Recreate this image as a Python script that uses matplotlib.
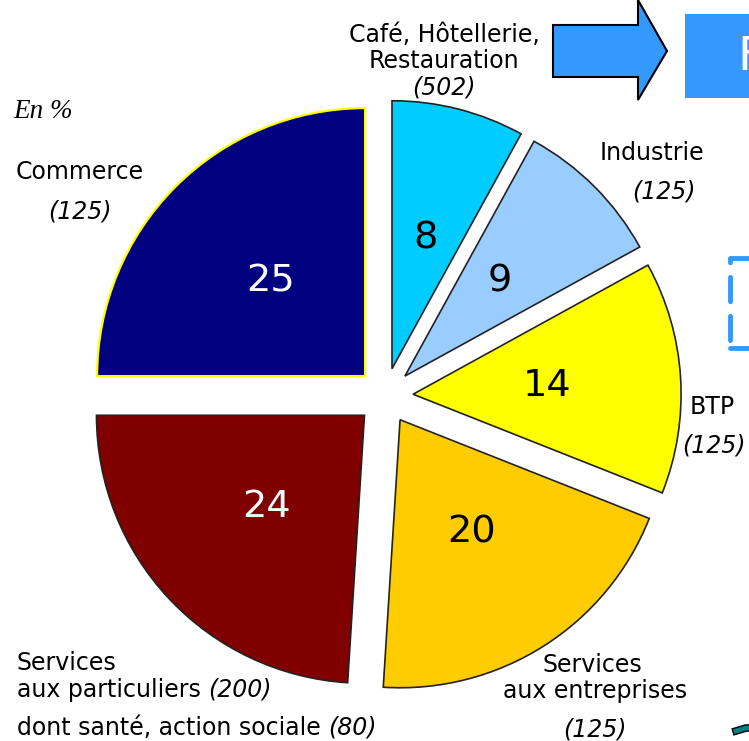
import matplotlib.pyplot as plt
from matplotlib.patches import Polygon, Rectangle

# parts en % par secteur (effectifs entre parenthèses)
secteurs = ["Café, Hôtellerie, Restauration", "Industrie", "BTP",
            "Services aux entreprises", "Services aux particuliers", "Commerce"]
parts = [8, 9, 14, 20, 24, 25]
effectifs = [502, 125, 125, 125, 200, 125]
effectif_sante = 80
couleurs = ["#00CCFF", "#99CCFF", "#FFFF00", "#FFCC00", "#800000", "#000080"]
bords = ["#222222", "#222222", "#222222", "#222222", "#222222", "#FFFF00"]
couleurs_texte = ["black", "black", "black", "black", "white", "white"]

W, H = 749, 741
fig = plt.figure(figsize=(W / 100, H / 100), dpi=100)

# camembert : rayon 268 px, centre en (385, 396) px
R, cx, cy = 268.0, 385.0, 396.0
ax = fig.add_axes([0, 0, 1, 1])
wedges, _, autotexts = ax.pie(
    parts, colors=couleurs, startangle=90, counterclock=False,
    explode=[0.105] * len(parts), autopct=lambda p: f"{p:.0f}",
    pctdistance=0.5, radius=1.0,
    wedgeprops=dict(linewidth=1.2),
    textprops=dict(fontsize=27.5, family="DejaVu Sans"))
for w, ec in zip(wedges, bords):
    w.set_edgecolor(ec)
wedges[-1].set_linewidth(1.6)
for t, c in zip(autotexts, couleurs_texte):
    t.set_color(c)
ax.set_xlim(-cx / R, (W - cx) / R)
ax.set_ylim(-(H - cy) / R, cy / R)
ax.set_aspect("equal")
ax.axis("off")

# calque en pixels pour les étiquettes et les éléments de décor
ov = fig.add_axes([0, 0, 1, 1], facecolor="none")
ov.set_xlim(0, W)
ov.set_ylim(H, 0)
ov.axis("off")

fs = 17
lab = dict(fontsize=fs, family="DejaVu Sans", ha="center", va="center")
ita = dict(lab, style="italic")

ov.text(444, 35, "Café, Hôtellerie,", **lab)
ov.text(444, 61, "Restauration", **lab)
ov.text(444, 87, f"({effectifs[0]})", **ita)

ov.text(652, 153, "Industrie", **lab)
ov.text(664, 191, f"({effectifs[1]})", **ita)

ov.text(712, 407, "BTP", **lab)
ov.text(714, 445, f"({effectifs[2]})", **ita)

ov.text(592, 665, "Services", **lab)
ov.text(595, 691, "aux entreprises", **lab)
ov.text(595, 730, f"({effectifs[3]})", **ita)

gauche = dict(lab, ha="left")
ov.text(17, 663, "Services", **gauche)
t1 = ov.text(17, 690, "aux particuliers", **gauche)
ov.annotate(f"({effectifs[4]})", xy=(1, 0.5), xycoords=t1, xytext=(5, 0),
            textcoords="offset points", **dict(ita, ha="left"))
t2 = ov.text(17, 728, "dont santé, action sociale", **gauche)
ov.annotate(f"({effectif_sante})", xy=(1, 0.5), xycoords=t2, xytext=(5, 0),
            textcoords="offset points", **dict(ita, ha="left"))

ov.text(80, 172, "Commerce", **lab)
ov.text(80, 211, f"({effectifs[5]})", **ita)

ov.text(13, 112, "En %", fontsize=19.5, family="Liberation Serif",
        style="italic", ha="left", va="center")

# flèche et encadrés en bordure
fleche = [(553, 25), (638, 25), (638, 0), (667, 51), (638, 100), (638, 77), (553, 77)]
ov.add_patch(Polygon(fleche, closed=True, facecolor="#3399FF",
                     edgecolor="black", linewidth=1.5))
ov.add_patch(Rectangle((685, 14), 80, 84, facecolor="#3399FF", edgecolor="none"))
ov.text(737, 58, "F", fontsize=34, color="white", family="DejaVu Sans",
        ha="left", va="center", clip_on=False)
ov.plot([760, 730, 730], [258, 258, 350], color="#3399FF", linewidth=3.5,
        linestyle=(0, (5, 3)), solid_capstyle="round", dash_capstyle="round")
ov.plot([730, 760], [348, 348], color="#3399FF", linewidth=3.5,
        solid_capstyle="round")
ov.plot([736, 746, 752], [731, 728, 728], color="black", linewidth=5.5)
ov.plot([736, 746, 752], [731, 728, 728], color="#008080", linewidth=3.5)

fig.savefig("out.png", dpi=100)
